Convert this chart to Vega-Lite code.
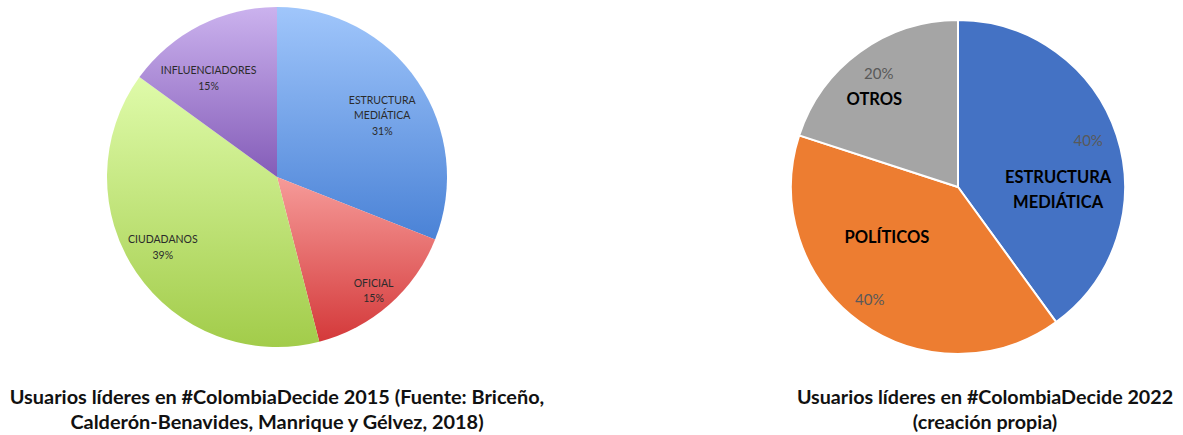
{
  "$schema": "https://vega.github.io/schema/vega-lite/v6.json",
  "padding": 0,
  "background": "white",
  "spacing": 179,
  "config": {"view": {"stroke": null}, "font": "Lato"},
  "hconcat": [
    {
      "width": 554,
      "height": 354,
      "title": {
        "text": ["Usuarios líderes en #ColombiaDecide 2015 (Fuente: Briceño,", "Calderón-Benavides, Manrique y Gélvez, 2018)"],
        "orient": "bottom", "anchor": "middle", "font": "Lato", "fontSize": 19.9, "fontWeight": "bold",
        "color": "#111111", "offset": 34, "lineHeight": 24.5
      },
      "data": {"values": [
        {"categoria": "ESTRUCTURA MEDIÁTICA", "porcentaje": 31},
        {"categoria": "OFICIAL", "porcentaje": 15},
        {"categoria": "CIUDADANOS", "porcentaje": 39},
        {"categoria": "INFLUENCIADORES", "porcentaje": 15}
      ]},
      "transform": [
        {"window": [{"op": "row_number", "as": "orden"}]},
        {"calculate": "datum.categoria + ' ' + datum.porcentaje + '%'", "as": "etiqueta"}
      ],
      "encoding": {
        "theta": {"field": "porcentaje", "type": "quantitative", "stack": true},
        "order": {"field": "orden", "type": "quantitative"}
      },
      "layer": [
        {
          "mark": {
            "type": "arc", "outerRadius": 170,
            "fill": {"expr": "datum.categoria == 'ESTRUCTURA MEDIÁTICA' ? {gradient: 'linear', x1: 0, y1: 0, x2: 0, y2: 1, stops: [{offset: 0, color: '#A0C6FB'}, {offset: 1, color: '#4A82D6'}]} : datum.categoria == 'OFICIAL' ? {gradient: 'linear', x1: 0, y1: 0, x2: 0, y2: 1, stops: [{offset: 0, color: '#F69B99'}, {offset: 1, color: '#D4393A'}]} : datum.categoria == 'CIUDADANOS' ? {gradient: 'linear', x1: 0, y1: 0, x2: 0, y2: 1, stops: [{offset: 0, color: '#DFFBAA'}, {offset: 1, color: '#A2CC4A'}]} : {gradient: 'linear', x1: 0, y1: 0, x2: 0, y2: 1, stops: [{offset: 0, color: '#CBB2EE'}, {offset: 1, color: '#845CB8'}]}"}
          },
          "encoding": {"detail": {"field": "categoria", "type": "nominal"}}
        },
        {
          "mark": {
            "type": "text", "font": "Lato", "fontSize": 10.5, "lineBreak": " ", "lineHeight": 15.5, "color": "#2b2b2b",
            "radius": {"expr": "datum.categoria == 'OFICIAL' ? 146 : datum.categoria == 'CIUDADANOS' ? 132 : 120"},
            "dx": {"expr": "datum.categoria == 'ESTRUCTURA MEDIÁTICA' ? 6 : datum.categoria == 'CIUDADANOS' ? -5 : datum.categoria == 'INFLUENCIADORES' ? -14 : 0"},
            "dy": {"expr": "datum.categoria == 'ESTRUCTURA MEDIÁTICA' ? -9 : datum.categoria == 'CIUDADANOS' ? -11 : datum.categoria == 'INFLUENCIADORES' ? 1 : -3"}
          },
          "encoding": {"text": {"field": "etiqueta", "type": "nominal"}}
        }
      ]
    },
    {
      "width": 450,
      "height": 374,
      "title": {
        "text": ["Usuarios líderes en #ColombiaDecide 2022", "(creación propia)"],
        "orient": "bottom", "anchor": "middle", "font": "Lato", "fontSize": 19.7, "fontWeight": "bold",
        "color": "#111111", "offset": 14, "lineHeight": 24.5, "dx": 27
      },
      "data": {"values": [
        {"categoria": "ESTRUCTURA MEDIÁTICA", "porcentaje": 40},
        {"categoria": "POLÍTICOS", "porcentaje": 40},
        {"categoria": "OTROS", "porcentaje": 20}
      ]},
      "transform": [
        {"window": [{"op": "row_number", "as": "orden"}]},
        {"calculate": "datum.porcentaje + '%'", "as": "etiqueta"}
      ],
      "encoding": {
        "theta": {"field": "porcentaje", "type": "quantitative", "stack": true},
        "order": {"field": "orden", "type": "quantitative"}
      },
      "layer": [
        {
          "mark": {"type": "arc", "outerRadius": 167, "stroke": "white", "strokeWidth": 2},
          "encoding": {
            "color": {
              "field": "categoria", "type": "nominal", "legend": null,
              "scale": {
                "domain": ["ESTRUCTURA MEDIÁTICA", "POLÍTICOS", "OTROS"],
                "range": ["#4472C4", "#ED7D31", "#A5A5A5"]
              }
            }
          }
        },
        {
          "mark": {
            "type": "text", "font": "Lato", "fontSize": 15, "color": "#595959", "radius": 140,
            "dx": {"expr": "datum.categoria == 'POLÍTICOS' ? -6 : datum.categoria == 'OTROS' ? 3 : -3"},
            "dy": {"expr": "datum.categoria == 'ESTRUCTURA MEDIÁTICA' ? -3 : 0"}
          },
          "encoding": {"text": {"field": "etiqueta", "type": "nominal"}}
        },
        {
          "mark": {
            "type": "text", "font": "Lato", "fontSize": 16.5, "fontWeight": "bold", "color": "#000000",
            "lineBreak": " ", "lineHeight": 25,
            "radius": {"expr": "datum.categoria == 'POLÍTICOS' ? 87 : datum.categoria == 'OTROS' ? 122 : 100"},
            "dx": {"expr": "datum.categoria == 'POLÍTICOS' ? -20 : datum.categoria == 'OTROS' ? -12 : 5"},
            "dy": {"expr": "datum.categoria == 'POLÍTICOS' ? -19 : datum.categoria == 'OTROS' ? 12 : 22"}
          },
          "encoding": {"text": {"field": "categoria", "type": "nominal"}}
        }
      ]
    }
  ]
}
